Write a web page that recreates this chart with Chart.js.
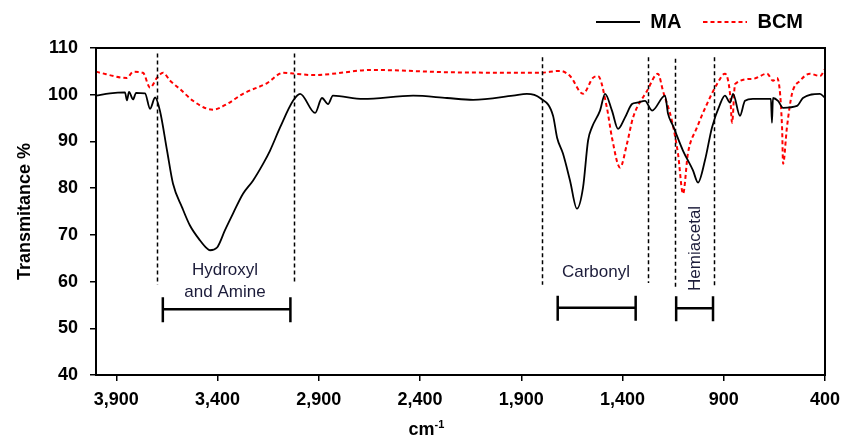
<!DOCTYPE html>
<html>
<head>
<meta charset="utf-8">
<script src="https://cdn.jsdelivr.net/npm/chart.js@4"></script>
<style>
    html, body { margin: 0; padding: 0; background: #fff; }
    #wrap { width: 845px; height: 437px; }
</style>
</head>
<body>
<div id="wrap"><canvas id="ftir"></canvas></div>
<script>
const FONT = '"Liberation Sans", Arial, sans-serif';

// MA spectrum: wavenumber (cm-1) and transmittance (%)
const maWave = [4000, 3931, 3857, 3847, 3837, 3817, 3802, 3758, 3733, 3708, 3684, 3649, 3620, 3575, 3536, 3486, 3452, 3437, 3402, 3363,
    3323, 3274, 3225, 3175, 3141, 3091, 3027, 2992, 2918, 2884, 2854, 2830, 2681, 2434, 2267, 2138, 1941, 1872, 1807, 1743,
    1723, 1694, 1659, 1625, 1595, 1570, 1551, 1511, 1486, 1452, 1422, 1388, 1353, 1328, 1289, 1254, 1190, 1175, 1151, 1101,
    1052, 1027, 993, 958, 918, 894, 869, 854, 820, 795, 756, 686, 667, 662, 657, 632, 607, 538, 509, 425, 400];
const maTrans = [99.8, 100.3, 100.5, 98.8, 100.6, 99.0, 100.4, 100.3, 97.0, 99.4, 96.5, 88.0, 81.0, 75.9, 72.0, 68.8, 67.1, 66.7, 67.3, 71.0,
    74.6, 78.8, 81.6, 85.2, 88.0, 93.0, 98.7, 100.2, 96.1, 99.3, 98.0, 99.8, 99.1, 99.8, 99.3, 98.9, 99.8, 100.2, 99.3, 95.5,
    90.8, 87.4, 81.6, 75.6, 80.1, 90.2, 93.0, 96.6, 100.2, 96.6, 92.7, 95.1, 98.0, 98.3, 98.7, 96.6, 99.8, 95.9, 93.4, 88.0,
    83.8, 81.2, 85.9, 93.0, 98.0, 99.8, 98.3, 100.2, 95.5, 98.7, 99.1, 99.1, 99.1, 94.0, 99.3, 98.7, 97.2, 97.6, 99.3, 100.2, 99.3];

// BCM spectrum
const bcmWave = [4000, 3847, 3817, 3768, 3733, 3699, 3669, 3634, 3585, 3521, 3452, 3422, 3353, 3274, 3155, 3076, 3017, 2928, 2632, 2252,
    1807, 1709, 1659, 1595, 1546, 1521, 1477, 1452, 1412, 1378, 1348, 1279, 1225, 1200, 1156, 1126, 1101, 1077, 1032, 983,
    933, 894, 869, 859, 844, 756, 686, 657, 637, 612, 607, 588, 563, 523, 474, 425, 400];
const bcmTrans = [104.9, 103.6, 104.9, 104.7, 101.5, 103.6, 104.7, 103.0, 101.2, 98.7, 97.0, 96.8, 98.0, 100.2, 102.5, 104.7, 104.5, 104.2, 105.3, 104.8,
    104.7, 105.1, 104.0, 100.2, 103.6, 104.0, 97.2, 90.8, 84.4, 89.5, 95.1, 100.8, 104.5, 100.8, 94.4, 87.4, 78.8, 87.4, 93.0, 98.0,
    102.3, 104.5, 100.2, 94.0, 102.3, 103.4, 104.5, 103.0, 103.6, 93.0, 85.2, 93.0, 100.2, 103.0, 104.5, 104.0, 105.5];

const xTicks = [3900, 3400, 2900, 2400, 1900, 1400, 900, 400];

// band regions: dashed edges, brackets and names
const bandEdges = [3700, 3020, 1800, 1275, 1140, 950];
const bandEdgeTop = [108.8, 108.8, 108.0, 108.0, 107.7, 108.0];
const bandEdgeBottom = [59.3, 59.7, 59.3, 59.7, 58.5, 59.0];
const bracketFrom = [3670, 1720, 1135];
const bracketTo = [3040, 1335, 953];
const bracketLevel = [54.1, 54.4, 54.3];
const bandNames = [['Hydroxyl', 'and Amine'], ['Carbonyl'], ['Hemiacetal']];
const bandNameX = [3363, 1531, 1042];
const bandNameY = [60.1, 62.0, 67.1];

const toPoints = (xs, ys) => xs.map((x, i) => ({ x: x, y: ys[i] }));

// small line sample for the legend (keeps the dash pattern)
function lineSample(color, width, dash) {
    const c = document.createElement('canvas');
    c.width = 44;
    c.height = 6;
    const g = c.getContext('2d');
    g.strokeStyle = color;
    g.lineWidth = width;
    g.setLineDash(dash);
    g.beginPath();
    g.moveTo(0, 3);
    g.lineTo(44, 3);
    g.stroke();
    return c;
}

// frame, band markers and x axis title
const bandMarks = {
    id: 'bandMarks',
    afterLayout(chart) {
        // lift the legend a little above the plot frame
        if (chart.legend) {
            chart.legend.top -= 6;
            chart.legend.bottom -= 6;
        }
    },
    afterDatasetsDraw(chart) {
        const { ctx, chartArea, scales: { x, y } } = chart;
        ctx.save();
        ctx.strokeStyle = '#000';
        ctx.lineWidth = 2;
        ctx.strokeRect(chartArea.left, chartArea.top, chartArea.width, chartArea.height);

        ctx.lineWidth = 1.5;
        ctx.setLineDash([4, 3]);
        bandEdges.forEach((w, i) => {
            const px = Math.round(x.getPixelForValue(w)) + 0.5;
            ctx.beginPath();
            ctx.moveTo(px, y.getPixelForValue(bandEdgeTop[i]));
            ctx.lineTo(px, y.getPixelForValue(bandEdgeBottom[i]));
            ctx.stroke();
        });
        ctx.setLineDash([]);

        ctx.lineWidth = 2.5;
        bracketFrom.forEach((w, i) => {
            const x1 = x.getPixelForValue(w);
            const x2 = x.getPixelForValue(bracketTo[i]);
            const py = y.getPixelForValue(bracketLevel[i]);
            ctx.beginPath();
            ctx.moveTo(x1, py); ctx.lineTo(x2, py);
            ctx.moveTo(x1, py - 12); ctx.lineTo(x1, py + 13);
            ctx.moveTo(x2, py - 12); ctx.lineTo(x2, py + 13);
            ctx.stroke();
        });

        ctx.fillStyle = '#1c1c3a';
        ctx.font = '17px ' + FONT;
        ctx.textAlign = 'center';
        ctx.textBaseline = 'middle';
        bandNames.forEach((lines, i) => {
            const px = x.getPixelForValue(bandNameX[i]);
            const py = y.getPixelForValue(bandNameY[i]);
            if (lines[0] === 'Hemiacetal') {
                ctx.save();
                ctx.translate(px, py);
                ctx.rotate(-Math.PI / 2);
                ctx.fillText(lines[0], 0, 0);
                ctx.restore();
                return;
            }
            const lh = 22;
            lines.forEach((t, j) => {
                ctx.fillText(t, px, py + (j - (lines.length - 1) / 2) * lh);
            });
        });

        // cm-1 with superscript
        ctx.fillStyle = '#000';
        ctx.textAlign = 'left';
        ctx.textBaseline = 'alphabetic';
        ctx.font = 'bold 18px ' + FONT;
        const base = ctx.measureText('cm').width;
        ctx.font = 'bold 11px ' + FONT;
        const sup = ctx.measureText('-1').width;
        const startX = chart.width / 2 + 4 - (base + sup) / 2;
        ctx.font = 'bold 18px ' + FONT;
        ctx.fillText('cm', startX, 435);
        ctx.font = 'bold 11px ' + FONT;
        ctx.fillText('-1', startX + base, 428);
        ctx.restore();
    }
};

const legendSamples = [lineSample('#000000', 1.8, []), lineSample('#ff0000', 2, [4, 3])];

new Chart(document.getElementById('ftir'), {
    type: 'line',
    data: {
        datasets: [
            {
                label: 'MA',
                data: toPoints(maWave, maTrans),
                borderColor: '#000000',
                backgroundColor: '#000000',
                borderWidth: 1.8,
                pointRadius: 0,
                cubicInterpolationMode: 'monotone'
            },
            {
                label: 'BCM',
                data: toPoints(bcmWave, bcmTrans),
                borderColor: '#ff0000',
                backgroundColor: '#ff0000',
                borderWidth: 2,
                borderDash: [4, 3],
                pointRadius: 0,
                cubicInterpolationMode: 'monotone'
            }
        ]
    },
    options: {
        responsive: true,
        maintainAspectRatio: false,
        animation: false,
        layout: { padding: { top: -4, right: 20, left: 0, bottom: 0 } },
        plugins: {
            legend: {
                position: 'top',
                align: 'end',
                labels: {
                    usePointStyle: true,
                    pointStyleWidth: 44,
                    color: '#000',
                    padding: 22,
                    font: { family: FONT, size: 20, weight: 'bold' },
                    generateLabels: (chart) => {
                        const items = Chart.defaults.plugins.legend.labels.generateLabels(chart);
                        items.forEach((item, i) => { item.pointStyle = legendSamples[i]; });
                        return items;
                    }
                }
            },
            tooltip: { enabled: false }
        },
        scales: {
            x: {
                type: 'linear',
                min: 400,
                max: 4000,
                reverse: true,
                afterBuildTicks: (scale) => {
                    scale.ticks = xTicks.map(v => ({ value: v }));
                },
                afterFit: (scale) => {
                    scale.height = 62;
                    scale.paddingRight = 0;
                },
                grid: { drawOnChartArea: false, drawTicks: true, tickLength: 6, color: '#000', lineWidth: 1.5 },
                border: { display: false },
                ticks: {
                    color: '#000',
                    padding: 8,
                    maxRotation: 0,
                    font: { family: FONT, size: 18, weight: 'bold' },
                    callback: (v) => v.toLocaleString('en-US')
                }
            },
            y: {
                min: 40,
                max: 110,
                afterFit: (scale) => {
                    scale.width = 96;
                    scale.paddingTop = 47;
                },
                grid: { drawOnChartArea: false, drawTicks: true, tickLength: 6, color: '#000', lineWidth: 1.5 },
                border: { display: false },
                ticks: {
                    stepSize: 10,
                    color: '#000',
                    padding: 12,
                    font: { family: FONT, size: 18, weight: 'bold' }
                },
                title: {
                    display: true,
                    text: 'Transmitance %',
                    color: '#000',
                    padding: { top: 14, bottom: 0 },
                    font: { family: FONT, size: 18, weight: 'bold' }
                }
            }
        }
    },
    plugins: [bandMarks]
});
</script>
</body>
</html>
